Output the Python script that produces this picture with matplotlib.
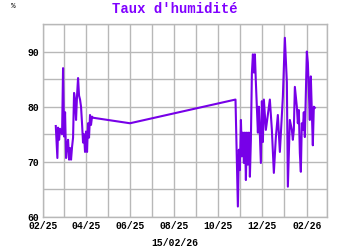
import matplotlib
matplotlib.use("Agg")
import matplotlib.pyplot as plt
import matplotlib.dates as mdates
import numpy as np
import pandas as pd

# relevés d'humidité (date, %)
dates = [
    "2025-02-18 04:00", "2025-02-20 09:00", "2025-02-21 08:00", "2025-02-22 18:00",
    "2025-02-24 03:00", "2025-02-26 21:00", "2025-02-28 06:00", "2025-03-01 16:00",
    "2025-03-03 01:00", "2025-03-04 10:00", "2025-03-05 19:00", "2025-03-07 05:00",
    "2025-03-08 14:00", "2025-03-09 23:00", "2025-03-11 08:00", "2025-03-12 17:00",
    "2025-03-14 03:00", "2025-03-15 12:00", "2025-03-16 21:00", "2025-03-18 06:00",
    "2025-03-19 15:00", "2025-03-21 01:00", "2025-03-22 10:00", "2025-03-23 19:00",
    "2025-03-25 04:00", "2025-03-26 13:00", "2025-03-27 23:00", "2025-03-29 08:00",
    "2025-03-30 17:00", "2025-04-01 02:00", "2025-04-02 12:00", "2025-04-03 21:00",
    "2025-04-05 06:00", "2025-04-06 15:00", "2025-04-08 00:00", "2025-04-09 10:00",
    "2025-04-10 19:00",
    "2025-06-01 00:00",
    "2025-10-25 07:00",
    "2025-10-28 14:00", "2025-10-30 00:00", "2025-10-31 09:00", "2025-11-01 19:00",
    "2025-11-03 04:00", "2025-11-04 13:00", "2025-11-05 22:00", "2025-11-07 08:00",
    "2025-11-08 17:00", "2025-11-10 02:00", "2025-11-11 11:00", "2025-11-12 21:00",
    "2025-11-14 06:00", "2025-11-15 15:00", "2025-11-17 00:00", "2025-11-18 10:00",
    "2025-11-19 19:00", "2025-11-21 04:00", "2025-11-22 13:00", "2025-11-25 08:00",
    "2025-11-26 17:00", "2025-11-29 11:00", "2025-11-30 21:00", "2025-12-02 06:00",
    "2025-12-03 15:00", "2025-12-06 09:00", "2025-12-11 22:00", "2025-12-14 17:00",
    "2025-12-17 11:00", "2025-12-20 06:00", "2025-12-23 00:00", "2025-12-25 19:00",
    "2025-12-29 23:00", "2026-01-01 17:00", "2026-01-04 12:00", "2026-01-05 21:00",
    "2026-01-08 15:00", "2026-01-11 10:00", "2026-01-12 19:00", "2026-01-14 04:00",
    "2026-01-15 14:00", "2026-01-18 08:00", "2026-01-19 17:00", "2026-01-21 02:00",
    "2026-01-22 12:00", "2026-01-23 21:00", "2026-01-25 06:00", "2026-01-26 15:00",
    "2026-01-28 00:00", "2026-01-29 10:00", "2026-02-01 04:00", "2026-02-02 14:00",
    "2026-02-03 23:00", "2026-02-05 08:00", "2026-02-06 17:00", "2026-02-08 03:00",
    "2026-02-09 12:00", "2026-02-10 21:00", "2026-02-12 07:00",
]
humidite = [
    76.5, 70.7, 76.2, 74.0,
    76.0, 75.0, 87.0, 74.6,
    79.0, 70.7, 73.0, 74.0,
    70.4, 72.5, 70.4, 72.7,
    74.4, 82.5, 81.3, 77.6,
    82.0, 85.2, 82.0, 81.3,
    80.0, 77.0, 73.5, 75.0,
    71.8, 75.5, 71.8, 77.0,
    74.4, 78.5, 76.7, 78.2,
    78.0,
    77.0,
    81.3,
    61.9, 72.2, 68.5, 77.6,
    71.0, 75.3, 69.8, 75.3,
    66.7, 75.3, 69.5, 75.3,
    67.3, 74.0, 86.0, 89.5,
    86.2, 89.5, 84.4, 75.3,
    80.0, 69.8, 81.0, 73.6,
    81.3, 75.8, 81.3, 75.8,
    68.0, 74.5, 78.5, 71.8,
    81.8, 92.5, 84.4, 65.5,
    77.6, 75.8, 74.0, 75.8,
    83.6, 80.0, 77.0, 79.4,
    71.6, 68.2, 77.0, 75.8,
    79.0, 74.5, 90.0, 88.0,
    83.0, 77.6, 85.5, 79.0,
    73.0, 80.0, 79.8,
]

x = pd.to_datetime(dates)

font = "Liberation Mono"
violet = "#8000ff"
ligne = "#7700e8"
grille = "#b8b8b8"

fig = plt.figure(figsize=(3.5, 2.5), dpi=100)
ax = fig.add_axes([0.124, 0.132, 0.81, 0.772])

ax.plot(x, humidite, color=ligne, lw=1.5, solid_joinstyle="round")

ax.set_xlim(pd.Timestamp("2025-02-01"), pd.Timestamp("2026-03-01"))
ax.set_ylim(60, 95)

ax.xaxis.set_major_locator(mdates.MonthLocator(bymonth=[2, 4, 6, 8, 10, 12]))
ax.xaxis.set_minor_locator(mdates.MonthLocator())
ax.xaxis.set_major_formatter(mdates.DateFormatter("%m/%y"))
ax.set_yticks([60, 70, 80, 90])
ax.set_yticks(np.arange(60, 96, 5), minor=True)

ax.grid(True, which="both", color=grille, lw=1)
ax.set_axisbelow(True)
ax.tick_params(which="both", length=0, pad=3)
for lab in ax.get_xticklabels() + ax.get_yticklabels():
    lab.set_fontfamily(font)
    lab.set_fontweight("bold")
    lab.set_fontsize(7)
for s in ax.spines.values():
    s.set_color(grille)
    s.set_linewidth(1)

fig.text(0.5, 0.965, "Taux d'humidité", ha="center", va="center",
         fontfamily=font, fontweight="bold", fontsize=10, color=violet)
fig.text(0.037, 0.975, "%", ha="center", va="center",
         fontfamily=font, fontweight="bold", fontsize=5.5, color="#333333")
fig.text(0.5, 0.028, "15/02/26", ha="center", va="center",
         fontfamily=font, fontweight="bold", fontsize=7)

fig.savefig("out.png", dpi=100)
